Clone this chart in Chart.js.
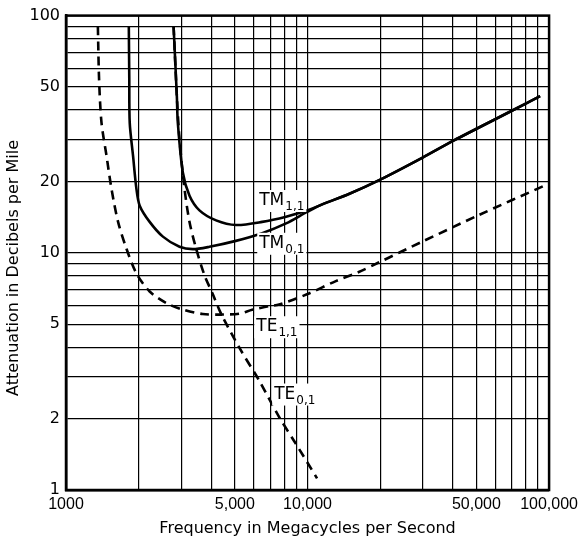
<!DOCTYPE html>
<html>
<head>
<meta charset="utf-8">
<script src="https://cdn.jsdelivr.net/npm/chart.js@4.4.0/dist/chart.umd.min.js"></script>
<style>
  html, body { margin: 0; padding: 0; background: #fff; }
  #wrap { width: 583px; height: 542px; }
</style>
</head>
<body>
<div id="wrap"><canvas id="chart"></canvas></div>
<script>
// valeurs (MHz, dB/mile)
var te11Freq  = [1355, 1371, 1403, 1471, 1543, 1643, 1780, 1957, 2220, 2600, 3046, 3683, 4438, 5220, 5900, 6940, 7630, 10000, 13100, 16300, 19700, 29600, 51000, 99000];
var te11Atten = [90, 53.6, 35.3, 25.7, 18.6, 13.5, 10.4, 8.19, 6.87, 6.14, 5.76, 5.52, 5.49, 5.54, 5.75, 5.96, 6.05, 6.7, 7.6, 8.3, 9.1, 11.1, 14.4, 19.5];

var tm01Freq  = [1820, 1828, 1836, 1895, 1957, 2019, 2220, 2519, 2951, 3350, 3925, 5000, 6490, 8150, 10000, 11500, 14830, 20100, 29950, 40200, 71100, 91800];
var tm01Atten = [90, 54, 35.3, 25.6, 18.6, 15.8, 13.5, 11.7, 10.6, 10.36, 10.6, 11.2, 12.1, 13.3, 14.9, 16.0, 17.7, 20.4, 25.2, 29.7, 40, 45.8];

var tm11Freq  = [2789, 2877, 2904, 3046, 3246, 3569, 4182, 5057, 6490, 8150, 10000, 11500, 14830, 20100, 29950, 40200, 71100, 91800];
var tm11Atten = [90, 45.7, 35.3, 21.8, 17.4, 15.1, 13.7, 13.1, 13.5, 14.2, 15.1, 16.0, 17.7, 20.4, 25.2, 29.7, 40, 45.8];

var te01Freq  = [2789, 2877, 2951, 3095, 3246, 3459, 3741, 4050, 4400, 5220, 6310, 7630, 8935, 10950];
var te01Atten = [90, 45.7, 30.1, 18.6, 13.5, 10.4, 8.07, 6.7, 5.5, 3.98, 2.89, 2.03, 1.57, 1.12];

// grille
var xGrid = [1000, 2000, 3000, 4000, 5000, 6000, 7000, 8000, 9000,
             10000, 20000, 30000, 40000, 50000, 60000, 70000, 80000, 90000, 100000];
var yGrid = [1, 2, 3, 4, 5, 6, 7, 8, 9, 10, 20, 30, 40, 50, 60, 70, 80, 90, 100];
var xLabelValues = [1000, 5000, 10000, 50000, 100000];
var xLabelTexts  = ['1000', '5,000', '10,000', '50,000', '100,000'];
var yLabelValues = [1, 2, 5, 10, 20, 50, 100];

// étiquettes des courbes
var curveNames = ['TM', 'TM', 'TE', 'TE'];
var curveSubs  = ['1,1', '0,1', '1,1', '0,1'];
var curveLabelFreq  = [6310, 6310, 6135, 7275];
var curveLabelAtten = [15.9, 10.5, 4.67, 2.43];

var yTitle = 'Attenuation in Decibels per Mile';

function toPoints(freq, atten) {
    return freq.map(function(f, i) { return { x: f, y: atten[i] }; });
}

var frameAndLabels = {
    id: 'frameAndLabels',
    afterDatasetsDraw: function(chart) {
        var ctx = chart.ctx, a = chart.chartArea;
        var xs = chart.scales.x, ys = chart.scales.y;
        ctx.save();
        ctx.strokeStyle = '#000';
        ctx.lineWidth = 2.5;
        ctx.strokeRect(a.left, a.top, a.right - a.left, a.bottom - a.top);
        for (var i = 0; i < curveNames.length; i++) {
            var px = xs.getPixelForValue(curveLabelFreq[i]);
            var py = ys.getPixelForValue(curveLabelAtten[i]);
            ctx.font = '17px "DejaVu Sans", sans-serif';
            var w1 = ctx.measureText(curveNames[i]).width;
            ctx.font = '12px "DejaVu Sans", sans-serif';
            var w2 = ctx.measureText(curveSubs[i]).width;
            ctx.fillStyle = '#fff';
            ctx.fillRect(px - 2, py - 15, w1 + w2 + 5, 22);
            ctx.fillStyle = '#000';
            ctx.textBaseline = 'alphabetic';
            ctx.textAlign = 'left';
            ctx.font = '17px "DejaVu Sans", sans-serif';
            ctx.fillText(curveNames[i], px, py);
            ctx.font = '12px "DejaVu Sans", sans-serif';
            ctx.fillText(curveSubs[i], px + w1 + 1, py + 5);
        }
        // titre de l'axe vertical
        ctx.translate(14, 268);
        ctx.rotate(-Math.PI / 2);
        ctx.textAlign = 'center';
        ctx.textBaseline = 'middle';
        ctx.font = '16px "DejaVu Sans", sans-serif';
        ctx.fillText(yTitle, 0, 0);
        ctx.restore();
    }
};

var base = { borderColor: '#000', borderWidth: 2.6, pointRadius: 0, fill: false, tension: 0.3 };

new Chart(document.getElementById('chart').getContext('2d'), {
    type: 'line',
    data: {
        datasets: [
            Object.assign({ label: 'TE1,1', data: toPoints(te11Freq, te11Atten), borderDash: [9, 6] }, base),
            Object.assign({ label: 'TM0,1', data: toPoints(tm01Freq, tm01Atten) }, base),
            Object.assign({ label: 'TM1,1', data: toPoints(tm11Freq, tm11Atten) }, base),
            Object.assign({ label: 'TE0,1', data: toPoints(te01Freq, te01Atten), borderDash: [9, 6] }, base)
        ]
    },
    options: {
        responsive: true,
        maintainAspectRatio: false,
        animation: false,
        layout: { padding: { top: 12, right: 32, left: 0, bottom: 0 } },
        plugins: { legend: { display: false }, tooltip: { enabled: false } },
        scales: {
            x: {
                type: 'logarithmic',
                min: 1000,
                max: 100000,
                afterBuildTicks: function(scale) {
                    scale.ticks = xGrid.map(function(v) { return { value: v }; });
                },
                afterFit: function(scale) { scale.height = 52; },
                ticks: {
                    autoSkip: false,
                    maxRotation: 0,
                    padding: 5,
                    color: '#000',
                    font: { family: '"Liberation Sans", sans-serif', size: 16 },
                    callback: function(value) {
                        var i = xLabelValues.indexOf(value);
                        return i >= 0 ? xLabelTexts[i] : '';
                    }
                },
                grid: { color: '#000', lineWidth: 1.2, drawTicks: false },
                border: { color: '#000', width: 2.5 },
                title: {
                    display: true,
                    text: 'Frequency in Megacycles per Second',
                    color: '#000',
                    font: { family: '"DejaVu Sans", sans-serif', size: 16 },
                    padding: { top: 0, bottom: 4 }
                }
            },
            y: {
                type: 'logarithmic',
                min: 1,
                max: 100,
                afterBuildTicks: function(scale) {
                    scale.ticks = yGrid.map(function(v) { return { value: v }; });
                },
                afterFit: function(scale) { scale.width = 66; },
                ticks: {
                    autoSkip: false,
                    padding: 6,
                    color: '#000',
                    font: { family: '"DejaVu Sans", sans-serif', size: 16 },
                    callback: function(value) {
                        return yLabelValues.indexOf(value) >= 0 ? String(value) : '';
                    }
                },
                grid: { color: '#000', lineWidth: 1.2, drawTicks: false },
                border: { color: '#000', width: 2.5 },
                title: { display: false }
            }
        }
    },
    plugins: [frameAndLabels]
});
</script>
</body>
</html>
